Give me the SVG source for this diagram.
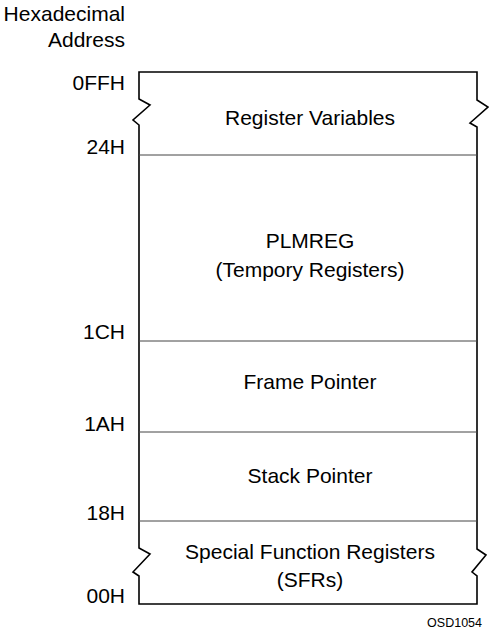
<svg xmlns="http://www.w3.org/2000/svg" width="489" height="635" viewBox="0 0 489 635">
  <style>
    .lbl { font-family: "Liberation Sans", Arial, sans-serif; font-size: 21px; fill: #000; }
    .addr { text-anchor: end; }
    .mid { text-anchor: middle; }
    .edge { fill: none; stroke: #000; stroke-width: 1.6; stroke-linejoin: miter; }
    .div { stroke: #444; stroke-width: 1; }
  </style>
  <rect width="489" height="635" fill="#fff"/>

  <!-- axis caption -->
  <g id="caption">
    <text class="lbl addr" x="125" y="21">Hexadecimal</text>
    <text class="lbl addr" x="125" y="47">Address</text>
  </g>

  <!-- address labels -->
  <g id="addresses">
    <text class="lbl addr" x="125" y="90">0FFH</text>
    <text class="lbl addr" x="125" y="154">24H</text>
    <text class="lbl addr" x="125" y="339">1CH</text>
    <text class="lbl addr" x="125" y="431">1AH</text>
    <text class="lbl addr" x="125" y="520">18H</text>
    <text class="lbl addr" x="125" y="603">00H</text>
  </g>

  <!-- memory map outline with break marks -->
  <g id="outline">
    <path class="edge" d="M139,99 L139,72 L477,72 L477,100 L488,107 L470,123 L477,127 L477,549 L486,555 L472,572 L477,576 L477,604 L139,604 L139,576 L133,572 L150,554 L139,548 L139,125 L133,120 L150,105 Z"/>
  </g>

  <!-- section dividers -->
  <g id="dividers">
    <line class="div" x1="139" y1="155" x2="477" y2="155"/>
    <line class="div" x1="139" y1="341" x2="477" y2="341"/>
    <line class="div" x1="139" y1="432" x2="477" y2="432"/>
    <line class="div" x1="139" y1="521" x2="477" y2="521"/>
  </g>

  <g id="register-variables">
    <text class="lbl mid" x="310" y="125">Register Variables</text>
  </g>
  <g id="plmreg">
    <text class="lbl mid" x="310" y="248">PLMREG</text>
    <text class="lbl mid" x="310" y="277">(Tempory Registers)</text>
  </g>
  <g id="frame-pointer">
    <text class="lbl mid" x="310" y="389">Frame Pointer</text>
  </g>
  <g id="stack-pointer">
    <text class="lbl mid" x="310" y="483">Stack Pointer</text>
  </g>
  <g id="sfrs">
    <text class="lbl mid" x="310" y="559">Special Function Registers</text>
    <text class="lbl mid" x="310" y="587">(SFRs)</text>
  </g>

  <text class="lbl addr" x="482" y="627" style="font-size:12.5px">OSD1054</text>
</svg>
